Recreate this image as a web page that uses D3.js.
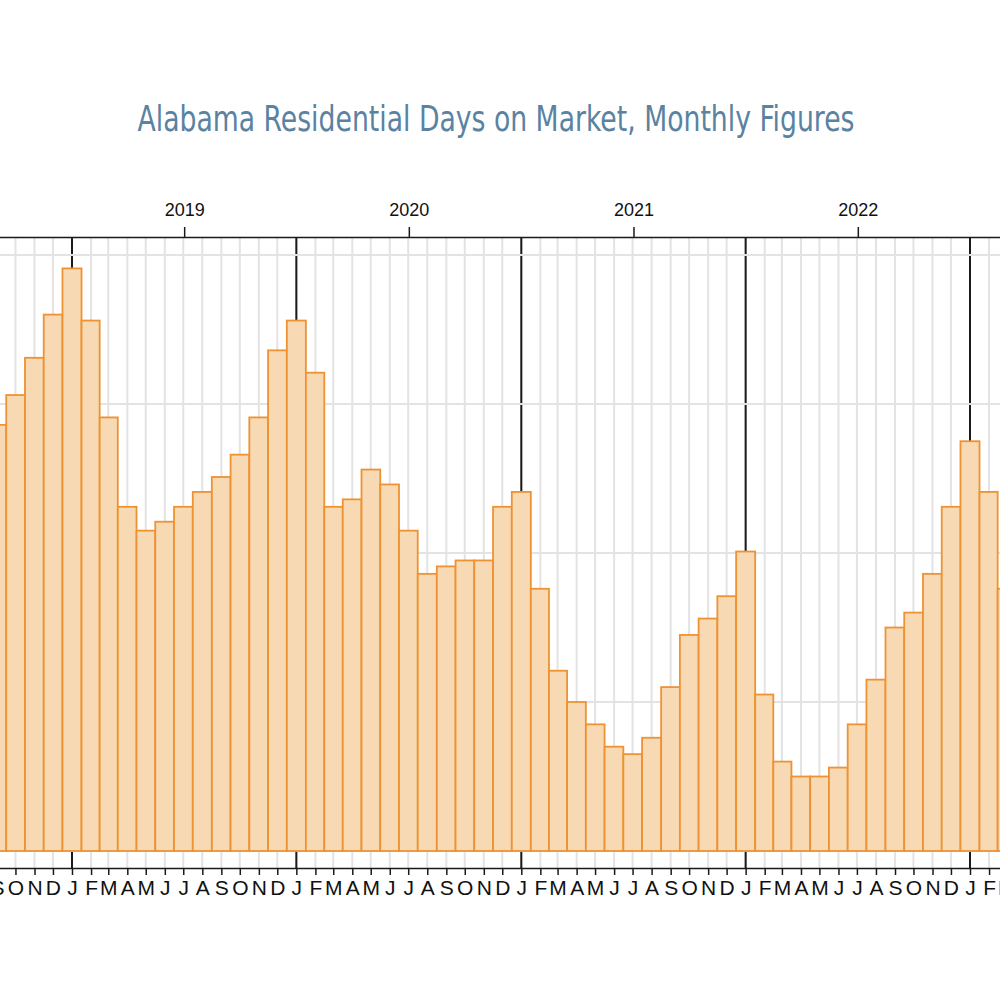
<!DOCTYPE html>
<html>
<head>
<meta charset="utf-8">
<script src="https://cdn.jsdelivr.net/npm/d3@7"></script>
<style>
  body { margin: 0; background: #fff; }
  svg { display: block; }
</style>
</head>
<body>
<svg width="1000" height="1000"></svg>
<script>
// Monthly days on market, Sep 2018 - Mar 2023
const months = [
  "2018-09", "2018-10", "2018-11", "2018-12",
  "2019-01", "2019-02", "2019-03", "2019-04", "2019-05", "2019-06",
  "2019-07", "2019-08", "2019-09", "2019-10", "2019-11", "2019-12",
  "2020-01", "2020-02", "2020-03", "2020-04", "2020-05", "2020-06",
  "2020-07", "2020-08", "2020-09", "2020-10", "2020-11", "2020-12",
  "2021-01", "2021-02", "2021-03", "2021-04", "2021-05", "2021-06",
  "2021-07", "2021-08", "2021-09", "2021-10", "2021-11", "2021-12",
  "2022-01", "2022-02", "2022-03", "2022-04", "2022-05", "2022-06",
  "2022-07", "2022-08", "2022-09", "2022-10", "2022-11", "2022-12",
  "2023-01", "2023-02", "2023-03"
];
const daysOnMarket = [
  68.6, 70.6, 73.1, 76.0,
  79.1, 75.6, 69.1, 63.1, 61.5, 62.1,
  63.1, 64.1, 65.1, 66.6, 69.1, 73.6,
  75.6, 72.1, 63.1, 63.6, 65.6, 64.6,
  61.5, 58.6, 59.1, 59.5, 59.5, 63.1,
  64.1, 57.6, 52.1, 50.0, 48.5, 47.0,
  46.5, 47.6, 51.0, 54.5, 55.6, 57.1,
  60.1, 50.5, 46.0, 45.0, 45.0, 45.6,
  48.5, 51.5, 55.0, 56.0, 58.6, 63.1,
  67.5, 64.1, 57.6
];
const years = [2019, 2020, 2021, 2022];
const monthLetters = ["J", "F", "M", "A", "M", "J", "J", "A", "S", "O", "N", "D"];
const gridValues = [40, 50, 60, 70, 80];

const svg = d3.select("svg");
const axisTopY = 237, axisBottomY = 868;

const parse = d3.utcParse("%Y-%m");
const dates = months.map(parse);

// the chart is wider than the page: Jan 2019 sits at 72, Jan 2023 at 970
const x0 = d3.scaleUtc()
  .domain([new Date(Date.UTC(2019, 0, 1)), new Date(Date.UTC(2023, 0, 1))])
  .range([72, 970]);
const x = x0.copy().domain([x0.invert(-30), x0.invert(1030)]).range([-30, 1030]);

const y = d3.scaleLinear().domain([40, 80]).range([851, 255]);

// month grid
svg.append("g")
  .selectAll("line")
  .data(dates)
  .enter()
  .append("line")
    .attr("x1", d => x(d)).attr("x2", d => x(d))
    .attr("y1", axisTopY).attr("y2", axisBottomY)
    .style("stroke", "#e3e3e3")
    .style("stroke-width", 2);

// january lines
svg.append("g")
  .selectAll("line")
  .data(dates.filter(d => d.getUTCMonth() === 0))
  .enter()
  .append("line")
    .attr("x1", d => x(d)).attr("x2", d => x(d))
    .attr("y1", axisTopY).attr("y2", axisBottomY)
    .style("stroke", "#1a1a1a")
    .style("stroke-width", 2);

// horizontal grid
svg.append("g")
  .selectAll("line")
  .data(gridValues)
  .enter()
  .append("line")
    .attr("x1", 0).attr("x2", 1000)
    .attr("y1", d => y(d)).attr("y2", d => y(d))
    .style("stroke", "#e3e3e3")
    .style("stroke-width", 2);

// bars, each centred on its month
const left = d => (x(d3.utcMonth.offset(d, -1)) + x(d)) / 2;
const right = d => (x(d) + x(d3.utcMonth.offset(d, 1))) / 2;

svg.append("g")
  .selectAll("rect")
  .data(dates)
  .enter()
  .append("rect")
    .attr("x", d => left(d))
    .attr("width", d => right(d) - left(d))
    .attr("y", (d, i) => y(daysOnMarket[i]))
    .attr("height", (d, i) => y(40) - y(daysOnMarket[i]))
    .attr("fill", "#f7d9b3")
    .style("stroke", "#ee9233")
    .style("stroke-width", 1.8);

// top axis with years
const yearMids = years.map(yr =>
  new Date((Date.UTC(yr, 0, 1) + Date.UTC(yr + 1, 0, 1)) / 2));

const gTop = svg.append("g")
  .attr("transform", `translate(0,${axisTopY})`)
  .call(d3.axisTop(x)
    .tickValues(yearMids)
    .tickSize(10)
    .tickSizeOuter(0)
    .tickPadding(11)
    .tickFormat((d, i) => years[i]));

// bottom axis with month letters
const gBottom = svg.append("g")
  .attr("transform", `translate(0,${axisBottomY})`)
  .call(d3.axisBottom(x)
    .tickValues(dates)
    .tickSize(7)
    .tickSizeOuter(0)
    .tickPadding(5)
    .tickFormat(d => monthLetters[d.getUTCMonth()]));

[gTop, gBottom].forEach(g => {
  g.select(".domain").style("stroke", "#1a1a1a").style("stroke-width", 1.5);
  g.selectAll(".tick line").style("stroke", "#1a1a1a").style("stroke-width", 1.5);
  g.selectAll("text")
    .style("font-family", "'Liberation Sans', Arial, sans-serif")
    .style("fill", "#111");
});
gTop.selectAll("text").style("font-size", "18px");
gBottom.selectAll("text").style("font-size", "21px");

// title
svg.append("text")
  .attr("x", 496)
  .attr("y", 131)
  .attr("text-anchor", "middle")
  .attr("textLength", 717)
  .attr("lengthAdjust", "spacingAndGlyphs")
  .style("font-family", "'DejaVu Sans Condensed', 'Liberation Sans Narrow', 'Roboto', sans-serif")
  .style("font-stretch", "condensed")
  .style("font-size", "36px")
  .style("fill", "#5a82a1")
  .text("Alabama Residential Days on Market, Monthly Figures");
</script>
</body>
</html>
